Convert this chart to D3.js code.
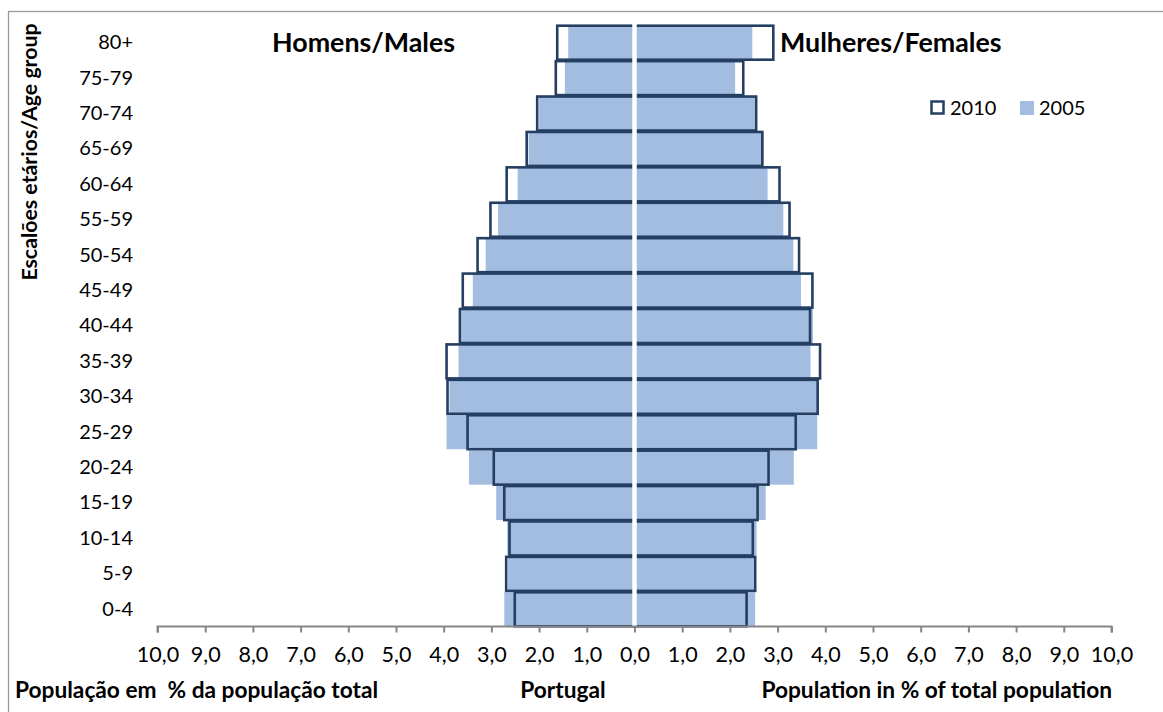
<!DOCTYPE html>
<html>
<head>
<meta charset="utf-8">
<script src="https://cdn.jsdelivr.net/npm/d3@7/dist/d3.min.js"></script>
<style>
  html, body { margin: 0; padding: 0; background: #fff; }
  svg { display: block; font-family: Lato, "Open Sans", sans-serif; }
</style>
</head>
<body>
<svg id="chart" width="1163" height="712"></svg>
<script>
// Age groups from youngest to oldest
const ageGroups = ["0-4","5-9","10-14","15-19","20-24","25-29","30-34","35-39","40-44","45-49","50-54","55-59","60-64","65-69","70-74","75-79","80+"];
// Percent of total population
const males2010   = [2.51,2.69,2.62,2.73,2.95,3.50,3.92,3.94,3.66,3.60,3.29,3.02,2.68,2.26,2.04,1.65,1.62];
const males2005   = [2.73,2.65,2.67,2.90,3.47,3.94,3.88,3.69,3.63,3.39,3.12,2.86,2.45,2.22,2.00,1.46,1.39];
const females2010 = [2.35,2.53,2.48,2.58,2.81,3.38,3.84,3.89,3.68,3.73,3.45,3.25,3.04,2.68,2.55,2.28,2.91];
const females2005 = [2.53,2.50,2.56,2.75,3.34,3.83,3.86,3.69,3.74,3.49,3.33,3.12,2.79,2.70,2.52,2.11,2.47];
const tickValues = [-10,-9,-8,-7,-6,-5,-4,-3,-2,-1,0,1,2,3,4,5,6,7,8,9,10];
const seriesNames = ["2010","2005"];

const svg = d3.select("#chart");
const colDark = "#243F62";
const colLight = "#A3BDE1";
const axisGray = "#868686";

// outer border
svg.append("rect").attr("x", 8.5).attr("y", 11.5).attr("width", 1170).attr("height", 720)
  .attr("fill", "none").attr("stroke", "#9a9a9a").attr("stroke-width", 1.3);

const x = d3.scaleLinear().domain([-10, 10]).range([157.5, 1111.5]);
const y = d3.scaleBand().domain(ageGroups.slice().reverse()).range([25, 627]).paddingInner(0.04).paddingOuter(0.02);

const rows = ageGroups.map((g, i) => ({g, m10: males2010[i], m05: males2005[i], f10: females2010[i], f05: females2005[i]}));

const gBars = svg.append("g");
// 2005 filled bars (behind)
gBars.selectAll("rect.m05").data(rows).join("rect")
  .attr("x", d => x(-d.m05)).attr("width", d => x(0) - x(-d.m05))
  .attr("y", d => y(d.g)).attr("height", y.bandwidth()).attr("fill", colLight);
gBars.selectAll("rect.f05").data(rows).join("rect")
  .attr("x", x(0)).attr("width", d => x(d.f05) - x(0))
  .attr("y", d => y(d.g)).attr("height", y.bandwidth()).attr("fill", colLight);
// 2010 outlined bars
gBars.selectAll("rect.m10").data(rows).join("rect")
  .attr("x", d => x(-d.m10)).attr("width", d => x(0) - x(-d.m10))
  .attr("y", d => y(d.g)).attr("height", y.bandwidth())
  .attr("fill", "none").attr("stroke", colDark).attr("stroke-width", 2.6);
gBars.selectAll("rect.f10").data(rows).join("rect")
  .attr("x", x(0)).attr("width", d => x(d.f10) - x(0))
  .attr("y", d => y(d.g)).attr("height", y.bandwidth())
  .attr("fill", "none").attr("stroke", colDark).attr("stroke-width", 2.6);

// white centre separator
svg.append("line").attr("x1", x(0)).attr("x2", x(0)).attr("y1", 22).attr("y2", 626)
  .attr("stroke", "#fff").attr("stroke-width", 4.5);

// x axis
const xAxis = d3.axisBottom(x).tickValues(tickValues).tickSize(6).tickPadding(14)
  .tickFormat(v => d3.format(".1f")(Math.abs(v)).replace(".", ","));
const gx = svg.append("g").attr("transform", "translate(0,626.5)").call(xAxis);
gx.select(".domain").attr("stroke", axisGray).attr("stroke-width", 2).attr("d", `M${x(-10)},6V0H${x(10)}V6`);
gx.selectAll(".tick line").attr("stroke", axisGray).attr("stroke-width", 2);
gx.selectAll(".tick text").attr("fill", "#000").attr("font-size", 21.5).attr("font-family", "Lato");

// y labels
const yAxis = d3.axisLeft(y).tickSize(0).tickPadding(0);
const gy = svg.append("g").attr("transform", "translate(133,0)").call(yAxis);
gy.select(".domain").remove();
gy.selectAll(".tick text").attr("fill", "#000").attr("font-size", 20).attr("font-family", "Lato");

// Y axis title
svg.append("text").attr("transform", "translate(37,152) rotate(-90)")
  .attr("text-anchor", "middle").attr("font-weight", "bold").attr("font-size", 21.3)
  .text("Escalões etários/Age group");

// Section titles
svg.append("text").attr("x", 272).attr("y", 52).attr("font-weight", "bold").attr("font-size", 26.8)
  .text("Homens/Males");
svg.append("text").attr("x", 780).attr("y", 52).attr("font-weight", "bold").attr("font-size", 26.8)
  .text("Mulheres/Females");

// bottom texts
svg.append("text").attr("x", 15).attr("y", 698).attr("font-weight", "bold").attr("font-size", 22.7)
  .attr("xml:space", "preserve").text("População em  % da população total");
svg.append("text").attr("x", 563).attr("y", 698).attr("text-anchor", "middle").attr("font-weight", "bold").attr("font-size", 22.7)
  .text("Portugal");
svg.append("text").attr("x", 1112).attr("y", 698).attr("text-anchor", "end").attr("font-weight", "bold").attr("font-size", 22.7)
  .text("Population in % of total population");

// legend
const leg = svg.append("g").attr("transform", "translate(930,100)");
leg.append("rect").attr("x", 1.5).attr("y", 1.5).attr("width", 12).attr("height", 12)
  .attr("fill", "#fff").attr("stroke", colDark).attr("stroke-width", 2.5);
leg.append("text").attr("x", 20).attr("y", 14.5).attr("font-size", 20).text(seriesNames[0]);
leg.append("rect").attr("x", 90).attr("y", 1).attr("width", 14).attr("height", 14).attr("fill", colLight);
leg.append("text").attr("x", 109).attr("y", 14.5).attr("font-size", 20).text(seriesNames[1]);
</script>
</body>
</html>
